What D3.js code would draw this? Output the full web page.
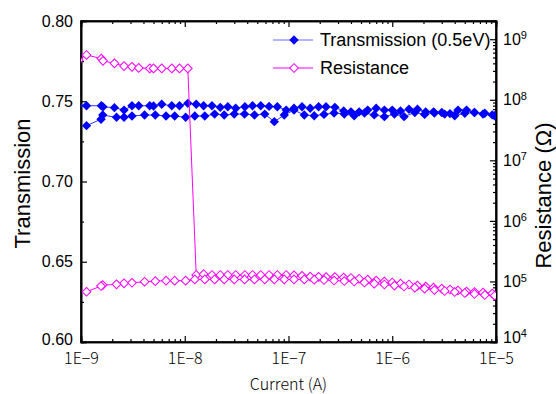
<!DOCTYPE html>
<html>
<head>
<meta charset="utf-8">
<script src="https://cdn.jsdelivr.net/npm/d3@7"></script>
<style>
  body { margin: 0; background: #fff; }
  text { font-family: "Liberation Sans", Arial, sans-serif; fill: #000; }
  .jp { font-family: "Noto Sans CJK JP", sans-serif; font-weight: 300; }
</style>
</head>
<body>
<script>
// sweep up: low current -> 1E-5 (switches from high to low resistance at ~1.3E-8 A)
const currentUp = [0.95e-9, 1.13e-9, 1.57e-9, 1.63e-9, 2.1e-9, 2.6e-9, 3.1e-9, 3.6e-9, 4.6e-9, 5.0e-9,
  6.0e-9, 7.5e-9, 8.9e-9, 1.07e-8, 1.29e-8, 1.52e-8, 1.83e-8, 2.2e-8, 2.6e-8, 3.1e-8,
  3.8e-8, 4.5e-8, 5.4e-8, 6.5e-8, 7.8e-8, 9.5e-8, 1.13e-7, 1.35e-7, 1.62e-7, 1.95e-7,
  2.3e-7, 2.8e-7, 3.4e-7, 4.0e-7, 4.8e-7, 5.8e-7, 7.0e-7, 8.4e-7, 1.0e-6, 1.2e-6,
  1.45e-6, 1.75e-6, 2.1e-6, 2.5e-6, 3.0e-6, 3.6e-6, 4.3e-6, 5.2e-6, 6.2e-6, 7.5e-6, 9.2e-6];
const transmissionUp = [0.7472, 0.7472, 0.7472, 0.7465, 0.7460, 0.7445, 0.7472, 0.7472, 0.7472, 0.7470,
  0.7481, 0.7472, 0.7472, 0.7487, 0.7481, 0.7472, 0.7472, 0.7462, 0.7466, 0.7456,
  0.7466, 0.7472, 0.7472, 0.7468, 0.7466, 0.7445, 0.7456, 0.7466, 0.7456, 0.7466,
  0.7466, 0.7462, 0.7440, 0.7434, 0.7434, 0.7445, 0.7456, 0.7445, 0.7445, 0.7440,
  0.7450, 0.7450, 0.7434, 0.7434, 0.7430, 0.7423, 0.7445, 0.7445, 0.7430, 0.7420, 0.7415];
const resistanceUp = [4.5e8, 5.5e8, 4.8e8, 4.4e8, 4.0e8, 3.6e8, 3.5e8, 3.36e8, 3.3e8, 3.3e8,
  3.3e8, 3.3e8, 3.3e8, 3.3e8, 1.28e5, 1.32e5, 1.28e5, 1.28e5, 1.28e5, 1.28e5,
  1.28e5, 1.28e5, 1.28e5, 1.28e5, 1.28e5, 1.28e5, 1.26e5, 1.24e5, 1.20e5, 1.19e5,
  1.18e5, 1.18e5, 1.16e5, 1.14e5, 1.11e5, 1.07e5, 1.035e5, 9.96e4, 9.6e4, 9.2e4,
  8.9e4, 8.55e4, 8.24e4, 7.9e4, 7.6e4, 7.35e4, 7.08e4, 6.8e4, 6.68e4, 6.56e4, 6.3e4];

// sweep down: 1E-5 -> low current (stays in low resistance state)
const currentDown = [9.7e-6, 7.8e-6, 6.2e-6, 5.0e-6, 4.0e-6, 3.2e-6, 2.55e-6, 2.05e-6, 1.65e-6, 1.3e-6,
  1.05e-6, 8.4e-7, 6.7e-7, 5.4e-7, 4.3e-7, 3.45e-7, 2.75e-7, 2.2e-7, 1.77e-7, 1.42e-7,
  1.13e-7, 9.1e-8, 7.3e-8, 5.9e-8, 4.7e-8, 3.77e-8, 3.0e-8, 2.4e-8, 1.94e-8, 1.56e-8,
  1.25e-8, 1.02e-8, 8.0e-9, 6.6e-9, 5.2e-9, 4.1e-9, 3.1e-9, 2.6e-9, 2.2e-9, 1.62e-9,
  1.56e-9, 1.13e-9];
const transmissionDown = [0.7410, 0.7425, 0.7430, 0.7425, 0.7410, 0.7420, 0.7427, 0.7418, 0.7430, 0.7404,
  0.7420, 0.7404, 0.7415, 0.7427, 0.7410, 0.7420, 0.7427, 0.7418, 0.7410, 0.7414,
  0.7445, 0.7414, 0.7373, 0.7420, 0.7414, 0.7420, 0.7420, 0.7414, 0.7420, 0.7408,
  0.7408, 0.7400, 0.7408, 0.7408, 0.7414, 0.7414, 0.7408, 0.7400, 0.7400, 0.7414,
  0.7388, 0.7348];
const resistanceDown = [5.85e4, 5.97e4, 6.2e4, 6.44e4, 6.68e4, 6.95e4, 7.2e4, 7.6e4, 7.9e4, 8.24e4,
  8.55e4, 8.9e4, 9.2e4, 9.6e4, 9.96e4, 1.015e5, 1.035e5, 1.055e5, 1.07e5, 1.08e5,
  1.08e5, 1.08e5, 1.08e5, 1.08e5, 1.08e5, 1.08e5, 1.08e5, 1.08e5, 1.08e5, 1.08e5,
  1.08e5, 1.03e5, 1.03e5, 1.03e5, 1.01e5, 9.9e4, 9.5e4, 9.3e4, 8.95e4, 8.7e4,
  8.4e4, 6.75e4];

const xTicks = [1e-9, 1e-8, 1e-7, 1e-6, 1e-5];
const xTickLabels = ["1E\u22129", "1E\u22128", "1E\u22127", "1E\u22126", "1E\u22125"];
const yTicks = [0.60, 0.65, 0.70, 0.75, 0.80];
const yMinorTicks = [0.625, 0.675, 0.725, 0.775];
const rTicks = [1e4, 1e5, 1e6, 1e7, 1e8, 1e9];
const rTickExponents = ["4", "5", "6", "7", "8", "9"];

const seriesNames = ["Transmission (0.5eV)", "Resistance"];

const margin = {top: 21, right: 60, bottom: 52, left: 81};
const W = 556, H = 394;
const width = W - margin.left - margin.right;
const height = H - margin.top - margin.bottom;

const svg = d3.select("body").append("svg")
    .attr("width", W)
    .attr("height", H);
const g = svg.append("g")
    .attr("transform", "translate(" + margin.left + "," + margin.top + ")");

const xScale = d3.scaleLog().domain([1e-9, 1e-5]).range([0, width]);
const yScale = d3.scaleLinear().domain([0.60, 0.80]).range([height, 0]);
const rScale = d3.scaleLog().domain([1e4, 2e9]).range([height, 0]);

// minor log ticks 2..9 each decade
function minorLog(lo, hi) {
    const out = [];
    for (let e = lo; e < hi; e++) {
        for (let m = 2; m <= 9; m++) out.push(m * Math.pow(10, e));
    }
    return out;
}

g.append("clipPath").attr("id", "clip")
    .append("rect").attr("width", width).attr("height", height);

// axes (ticks point inward)
g.append("g")
    .attr("transform", "translate(0," + height + ")")
    .call(d3.axisBottom(xScale).tickValues(minorLog(-9, -5)).tickSize(-3).tickFormat(""));
g.append("g")
    .attr("transform", "translate(0," + height + ")")
    .call(d3.axisBottom(xScale).tickValues(xTicks).tickSize(-6).tickPadding(12)
        .tickFormat((d, i) => xTickLabels[i]))
    .selectAll("text").attr("class", "jp").attr("dy", "0.6em").style("font-size", "16px");
g.append("g")
    .call(d3.axisTop(xScale).tickValues(minorLog(-9, -5)).tickSize(-3).tickFormat(""));
g.append("g")
    .call(d3.axisTop(xScale).tickValues(xTicks).tickSize(-6).tickFormat(""));

g.append("g")
    .call(d3.axisLeft(yScale).tickValues(yMinorTicks).tickSize(-3).tickFormat(""));
g.append("g")
    .call(d3.axisLeft(yScale).tickValues(yTicks).tickSize(-6).tickPadding(8)
        .tickFormat(d3.format(".2f")))
    .selectAll("text").style("font-size", "16px")
    .attr("dy", d => d === 0.60 ? "0.18em" : "0.32em");

const rMinor = minorLog(4, 9).concat([2e9]);
g.append("g")
    .attr("transform", "translate(" + width + ",0)")
    .call(d3.axisRight(rScale).tickValues(rMinor).tickSize(-3).tickFormat(""));
const rAxis = g.append("g")
    .attr("transform", "translate(" + width + ",0)")
    .call(d3.axisRight(rScale).tickValues(rTicks).tickSize(-6).tickFormat(""));
rAxis.selectAll(".tick").each(function (d, i) {
    const t = d3.select(this).append("text")
        .attr("x", 7).attr("dy", i === 0 ? "0.0em" : "0.32em")
        .attr("text-anchor", "start")
        .style("font-size", "16px");
    t.append("tspan").text("10");
    t.append("tspan").attr("dy", "-0.5em").style("font-size", "11px").text(rTickExponents[i]);
});

g.selectAll(".domain").attr("stroke-width", 1.6);
g.selectAll(".tick line").attr("stroke-width", 1.2);

// frame
g.append("rect").attr("width", width).attr("height", height)
    .attr("fill", "none").attr("stroke", "#000").attr("stroke-width", 1.6);

// data
const up = currentUp.map((c, i) => ({c: c, t: transmissionUp[i], r: resistanceUp[i]}));
const down = currentDown.map((c, i) => ({c: c, t: transmissionDown[i], r: resistanceDown[i]}));
const all = up.concat(down);

const diamond = d3.symbol(d3.symbolSquare, 44);
const plot = g.append("g").attr("clip-path", "url(#clip)");

const tLine = d3.line().x(d => xScale(d.c)).y(d => yScale(d.t));
const rLine = d3.line().x(d => xScale(d.c)).y(d => rScale(d.r));

plot.append("path").datum(all)
    .attr("fill", "none").attr("stroke", "#3333ff").attr("stroke-width", 1)
    .attr("d", tLine);
plot.selectAll(".tpt").data(all).enter().append("path")
    .attr("class", "tpt")
    .attr("d", diamond)
    .attr("transform", d => "translate(" + xScale(d.c) + "," + yScale(d.t) + ") rotate(45)")
    .attr("fill", "#0000ff");

plot.append("path").datum(all)
    .attr("fill", "none").attr("stroke", "#ff00ff").attr("stroke-width", 1)
    .attr("d", rLine);
plot.selectAll(".rpt").data(all).enter().append("path")
    .attr("class", "rpt")
    .attr("d", d3.symbol(d3.symbolSquare, 38))
    .attr("transform", d => "translate(" + xScale(d.c) + "," + rScale(d.r) + ") rotate(45)")
    .attr("fill", "#fff").attr("stroke", "#ff00ff").attr("stroke-width", 1);

// legend
const legend = svg.append("g").attr("transform", "translate(273,40)");
const legendColors = ["#0000ff", "#ff00ff"];
seriesNames.forEach((name, i) => {
    const row = legend.append("g").attr("transform", "translate(0," + (i * 28) + ")");
    row.append("line").attr("x1", 0).attr("x2", 40)
        .attr("stroke", i === 0 ? "#6666ff" : "#ff00ff").attr("stroke-width", 1);
    row.append("path")
        .attr("d", d3.symbol(d3.symbolSquare, i === 0 ? 44 : 38))
        .attr("transform", "translate(21,0) rotate(45)")
        .attr("fill", i === 0 ? legendColors[0] : "#fff")
        .attr("stroke", i === 0 ? "none" : legendColors[1]);
    row.append("text").attr("x", 47).attr("dy", "0.35em")
        .style("font-size", "18px").text(name);
});

// axis titles
svg.append("text").attr("class", "jp")
    .attr("x", margin.left + width / 2).attr("y", 390)
    .attr("text-anchor", "middle").style("font-size", "16px")
    .text("Current (A)");
svg.append("text")
    .attr("transform", "translate(30," + (margin.top + height / 2 + 2) + ") rotate(-90)")
    .attr("text-anchor", "middle").style("font-size", "22px")
    .text("Transmission");
svg.append("text")
    .attr("transform", "translate(551," + (margin.top + height / 2 + 14) + ") rotate(-90)")
    .attr("text-anchor", "middle").style("font-size", "22px")
    .text("Resistance (\u03a9)");
</script>
</body>
</html>
